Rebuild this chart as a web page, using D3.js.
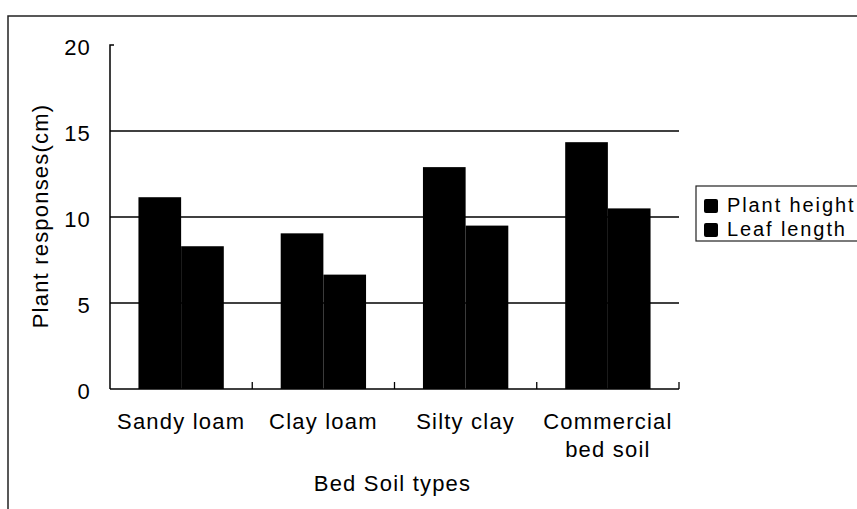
<!DOCTYPE html>
<html>
<head>
<meta charset="utf-8">
<script src="https://cdn.jsdelivr.net/npm/d3@7"></script>
<style>
  html, body { margin: 0; padding: 0; background: #fff; }
  svg text { font-family: "Liberation Sans", Arial, sans-serif; fill: #000; letter-spacing: 1.2px; }
</style>
</head>
<body>
<div id="chart"></div>
<script>
const categories = ['Sandy loam', 'Clay loam', 'Silty clay', 'Commercial\nbed soil'];
const seriesNames = ['Plant height', 'Leaf length'];
const plantHeight = [11.15, 9.05, 12.9, 14.35];
const leafLength = [8.3, 6.65, 9.5, 10.5];
const yTicks = [0, 5, 10, 15, 20];

const W = 857, H = 509;
const margin = { left: 110, right: 178, top: 45, bottom: 120 };

const svg = d3.select('#chart').append('svg')
  .attr('width', W).attr('height', H);

// outer frame (top + left edges visible)
svg.append('path')
  .attr('d', `M8,${H}V16H${W}`)
  .attr('fill', 'none').attr('stroke', '#222').attr('stroke-width', 1.5);

const x0 = d3.scaleBand()
  .domain(categories)
  .range([margin.left, W - margin.right])
  .paddingInner(0.4).paddingOuter(0.2);
const x1 = d3.scaleBand().domain(seriesNames).range([0, x0.bandwidth()]);
const y = d3.scaleLinear().domain([0, 20]).range([H - margin.bottom, margin.top]);

const rows = categories.map((c, i) => ({ cat: c, vals: [plantHeight[i], leafLength[i]] }));

const plot = svg.append('g');

// gridlines
plot.append('g').selectAll('line')
  .data(yTicks.filter(t => t > 0 && t < 20))
  .join('line')
  .attr('x1', margin.left).attr('x2', W - margin.right)
  .attr('y1', d => y(d)).attr('y2', d => y(d))
  .attr('stroke', '#000').attr('stroke-width', 1.3);

// bars
plot.append('g').selectAll('g')
  .data(rows)
  .join('g')
  .attr('transform', d => `translate(${x0(d.cat)},0)`)
  .selectAll('rect')
  .data(d => d.vals.map((v, j) => ({ key: seriesNames[j], v })))
  .join('rect')
  .attr('x', d => x1(d.key))
  .attr('width', x1.bandwidth())
  .attr('y', d => y(d.v))
  .attr('height', d => y(0) - y(d.v))
  .attr('fill', '#000');

// y axis
const yAxis = svg.append('g')
  .attr('transform', `translate(${margin.left},0)`)
  .call(d3.axisLeft(y).tickValues(yTicks).tickSize(-4).tickPadding(19));
yAxis.select('.domain').attr('stroke', '#000').attr('stroke-width', 1.5).attr('d', `M4,${y(20)}H0V${y(0)}`);
yAxis.selectAll('.tick line').remove();
yAxis.selectAll('.tick text').attr('font-size', 22).attr('dy', '0.42em')
  .attr('font-family', '"Liberation Sans", Arial, sans-serif');

// x axis
const xEdges = categories.map(c => x0(c) - x0.step() * 0.2).concat([W - margin.right]);
const xAxis = svg.append('g');
xAxis.append('line')
  .attr('x1', margin.left).attr('x2', W - margin.right)
  .attr('y1', y(0)).attr('y2', y(0))
  .attr('stroke', '#000').attr('stroke-width', 1.5);
xAxis.selectAll('.xtick').data(xEdges.slice(1))
  .join('line').attr('class', 'xtick')
  .attr('x1', d => d).attr('x2', d => d)
  .attr('y1', y(0)).attr('y2', y(0) - 7)
  .attr('stroke', '#000').attr('stroke-width', 1.3);

xAxis.selectAll('.xlab').data(categories)
  .join('text').attr('class', 'xlab')
  .attr('text-anchor', 'middle')
  .attr('font-size', 22)
  .attr('transform', d => `translate(${x0(d) + x0.bandwidth() / 2},429)`)
  .selectAll('tspan')
  .data(d => d.split('\n'))
  .join('tspan')
  .attr('x', 0)
  .attr('y', (d, i) => i * 28)
  .text(d => d);

// axis titles
svg.append('text')
  .attr('x', (margin.left + W - margin.right) / 2 - 2).attr('y', 491)
  .attr('text-anchor', 'middle').attr('font-size', 22)
  .text('Bed Soil types');

svg.append('text')
  .attr('transform', 'translate(48,216) rotate(-90)')
  .attr('text-anchor', 'middle').attr('font-size', 22)
  .text('Plant responses(cm)');

// legend
const legend = svg.append('g').attr('transform', 'translate(696,186)');
legend.append('rect')
  .attr('x', 0).attr('y', 0).attr('width', 200).attr('height', 55)
  .attr('fill', '#fff').attr('stroke', '#222').attr('stroke-width', 1.2);
const li = legend.selectAll('.li').data(seriesNames)
  .join('g').attr('class', 'li')
  .attr('transform', (d, i) => `translate(0,${13 + i * 24})`);
li.append('rect')
  .attr('x', 8).attr('y', 0).attr('width', 14).attr('height', 14)
  .attr('rx', 2).attr('fill', '#000');
li.append('text')
  .attr('x', 31).attr('y', 13)
  .attr('font-size', 20)
  .style('letter-spacing', '1.9px')
  .text(d => d);
</script>
</body>
</html>
